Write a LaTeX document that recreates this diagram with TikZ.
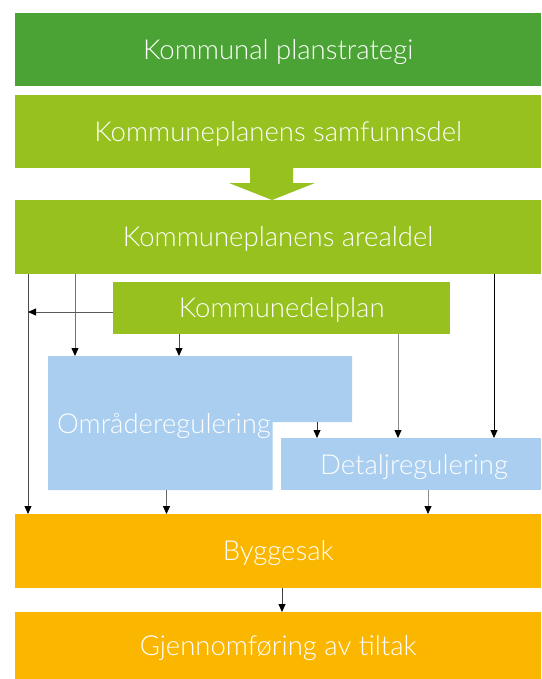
\documentclass[tikz,border=0pt]{standalone}
\usepackage{fontspec}
\setmainfont{Lato}[UprightFont={* Light}]
\usetikzlibrary{arrows.meta}
\definecolor{dgreen}{HTML}{4BA335}
\definecolor{lgreen}{HTML}{96C11F}
\definecolor{lblue}{HTML}{A9CEF0}
\definecolor{orng}{HTML}{FBB600}
\tikzset{
  lbl/.style={text=white, font=\fontsize{27.5}{30}\selectfont, text height=19.5pt, text depth=0pt, inner sep=0pt},
  band/.style={lbl, draw=none, minimum width=526pt, anchor=north west},
  conn/.style={-{Triangle[width=7pt,length=8pt,color=black]}, line width=0.8pt},
}
\begin{document}
\begin{tikzpicture}[x=1pt,y=-1pt]
\useasboundingbox (0,0) rectangle (541,679);
% bands
\node[band, fill=dgreen, minimum height=73pt] (strat) at (15,13) {Kommunal planstrategi};
\node[band, fill=lgreen, minimum height=73pt] (samf) at (15,95) {Kommuneplanens samfunnsdel};
\node[band, fill=lgreen, minimum height=74pt] (areal) at (15,200) {Kommuneplanens arealdel};
\node[band, fill=orng, minimum height=74pt] (bygg) at (15,514) {Byggesak};
\node[band, fill=orng, minimum height=67pt] (gjen) at (15,612) {Gjennomføring av tiltak};
% block arrow
\fill[lgreen] (250,168) -- (293,168) -- (293,183) -- (315,183) -- (272,200) -- (229,183) -- (250,183) -- cycle;
% Kommunedelplan
\node[band, fill=lgreen, minimum width=337pt, minimum height=52pt] (kdp) at (113,282) {Kommunedelplan};
% Omraderegulering
\fill[lblue] (48,356) -- (352,356) -- (352,422) -- (272.5,422) -- (272.5,490) -- (48,490) -- cycle;
\coordinate (omtop) at (200,356);
\coordinate (omstep) at (317,422);
\coordinate (ombot) at (160,490);
\node[lbl] (omr) at (164,423.5) {Områderegulering};
% Detaljregulering
\node[draw=none, fill=lblue, inner sep=0pt, minimum width=260pt, minimum height=52pt, anchor=north west] (det) at (281,438) {};
\node[lbl] (detl) at (414,464.5) {Detaljregulering};
% x positions
\coordinate (xa) at (28,0);
\coordinate (xb) at (75,0);
\coordinate (xc) at (179,0);
\coordinate (xd) at (398,0);
\coordinate (xe) at (494,0);
\coordinate (xf) at (317,0);
\coordinate (xg) at (166.5,0);
\coordinate (xh) at (428,0);
\coordinate (xi) at (282,0);
\coordinate (kl) at (113,312);
% connectors
\draw[conn, draw=black!70] (xa |- areal.south) -- (xa |- bygg.north);
\draw[conn, draw=black!55] (xb |- areal.south) -- (xb |- omtop);
\draw[conn, draw=black!65] (kl) -- (xa |- kl);
\draw[conn, draw=black!70] (xc |- kdp.south) -- (xc |- omtop);
\draw[conn, draw=black!45] (xd |- kdp.south) -- (xd |- det.north);
\draw[conn, draw=black] (xe |- areal.south) -- (xe |- det.north);
\draw[conn, draw=black!80] (omstep) -- (xf |- det.north);
\draw[conn, draw=black!60] (xg |- ombot) -- (xg |- bygg.north);
\draw[conn, draw=black!45] (xh |- det.south) -- (xh |- bygg.north);
\draw[conn, draw=black!75] (xi |- bygg.south) -- (xi |- gjen.north);
\end{tikzpicture}
\end{document}
